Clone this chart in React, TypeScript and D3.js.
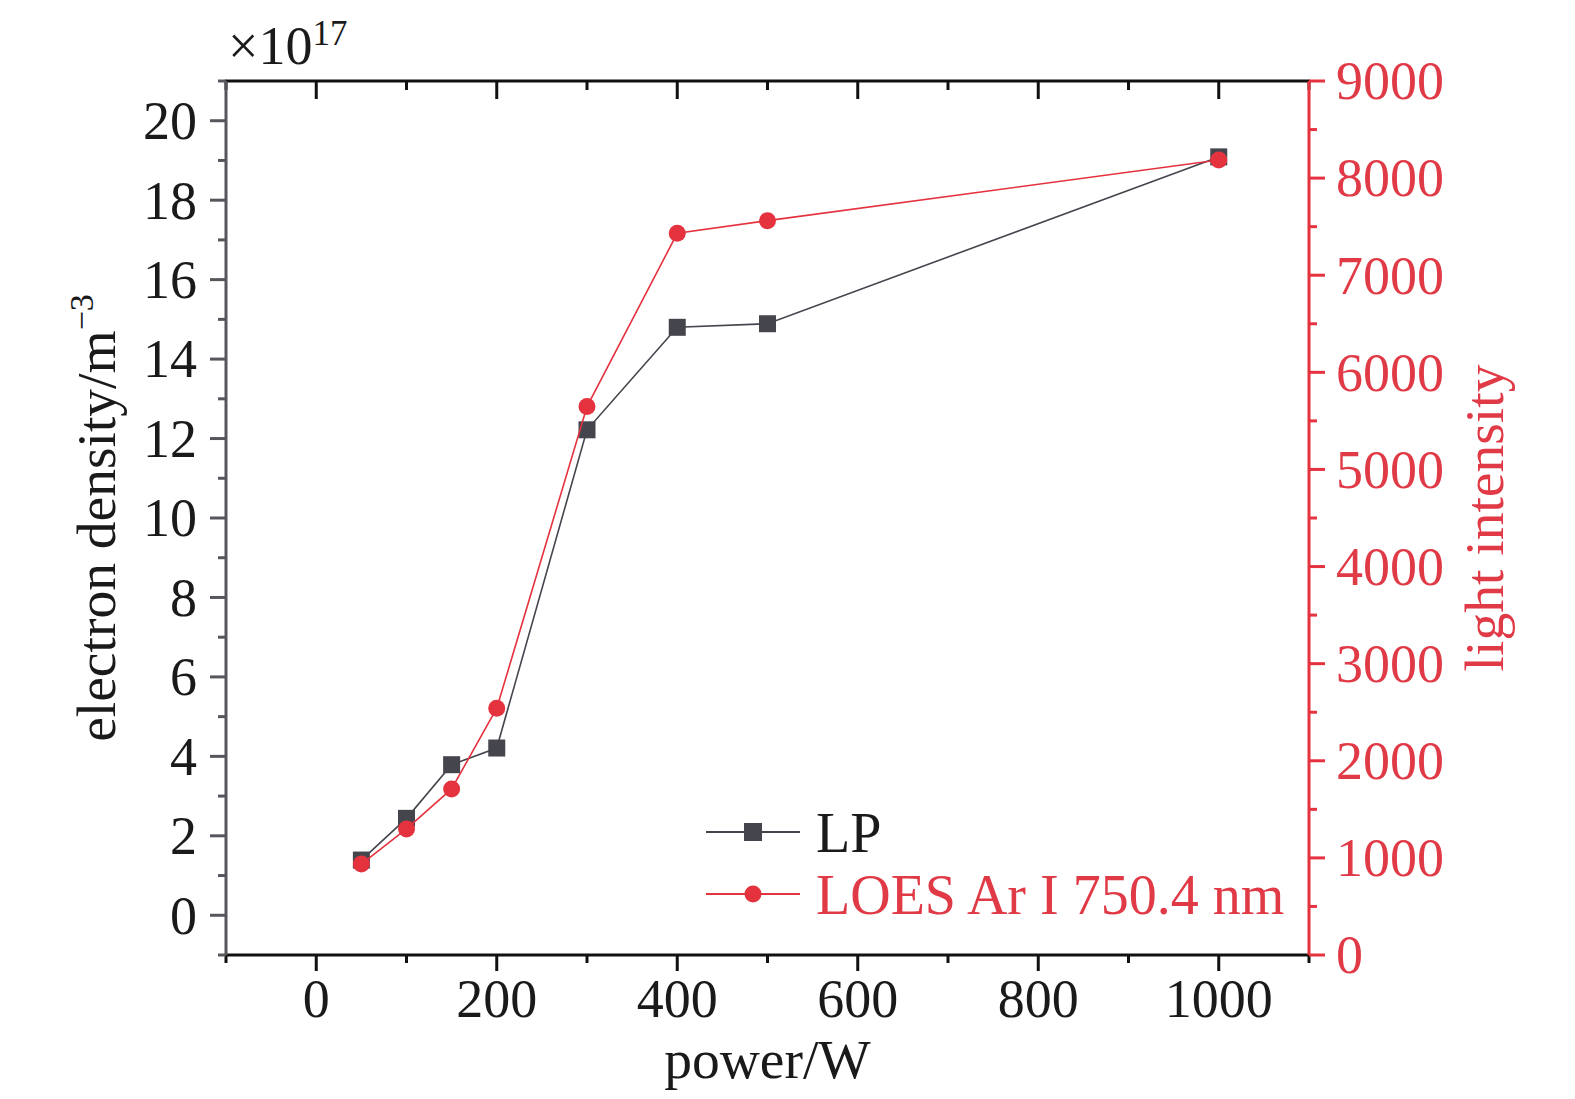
import * as d3 from "d3";

// power in W
const power = [50, 100, 150, 200, 300, 400, 500, 1000];
// electron density, x10^17 m^-3 (Langmuir probe)
const lpDensity = [1.39, 2.44, 3.79, 4.21, 12.22, 14.8, 14.89, 19.09];
// Ar I 750.4 nm line intensity
const loesIntensity = [937, 1298, 1710, 2541, 5647, 7432, 7562, 8187];

const xTicks = d3.range(-100, 1101, 100);
const yLeftTicks = d3.range(-1, 22, 1);
const yRightTicks = d3.range(0, 9001, 500);

const W = 1575;
const H = 1099;
const m = { left: 226, right: 1309, top: 81, bottom: 955 };

const BLACK = "#45454d";
const RED = "#e5323f";
const RED_TEXT = "#e13a47";
const LEFT_AXIS = "#56565c";
const FONT = "'Liberation Serif', 'Times New Roman', serif";

export default function App() {
  const x = d3.scaleLinear().domain([-100, 1100]).range([m.left, m.right]);
  const yL = d3.scaleLinear().domain([-1, 21]).range([m.bottom, m.top]);
  const yR = d3.scaleLinear().domain([0, 9000]).range([m.bottom, m.top]);

  const lpPts = power.map((p, i) => [x(p), yL(lpDensity[i])] as [number, number]);
  const loesPts = power.map((p, i) => [x(p), yR(loesIntensity[i])] as [number, number]);
  const line = d3.line();

  const major = 16;
  const minor = 8;

  return (
    <svg
      width={W}
      height={H}
      style={{ position: "absolute", left: 0, top: 0, background: "#fff" }}
      fontFamily={FONT}
    >
      {/* data */}
      <path d={line(lpPts) ?? ""} fill="none" stroke={BLACK} strokeWidth={1.6} />
      {lpPts.map(([px, py], i) => (
        <rect key={i} x={px - 8.5} y={py - 8.5} width={17} height={17} fill={BLACK} />
      ))}
      <path d={line(loesPts) ?? ""} fill="none" stroke={RED} strokeWidth={1.6} />
      {loesPts.map(([px, py], i) => (
        <circle key={i} cx={px} cy={py} r={8.5} fill={RED} />
      ))}

      {/* bottom axis */}
      <line x1={m.left - 1} x2={m.right + 1} y1={m.bottom} y2={m.bottom} stroke="#111" strokeWidth={3} />
      {xTicks.map((t) => {
        const isMajor = t % 200 === 0;
        return (
          <g key={t}>
            <line x1={x(t)} x2={x(t)} y1={m.bottom} y2={m.bottom + (isMajor ? major : minor)} stroke="#111" strokeWidth={3} />
            {isMajor && (
              <text x={x(t)} y={1017} textAnchor="middle" fontSize={54} fill="#1a1a1a">
                {t}
              </text>
            )}
          </g>
        );
      })}
      <text x={(m.left + m.right) / 2} y={1078} textAnchor="middle" fontSize={55.5} fill="#1a1a1a">
        power/W
      </text>

      {/* top axis */}
      <line x1={m.left - 1} x2={m.right + 1} y1={m.top} y2={m.top} stroke="#111" strokeWidth={3} />
      {xTicks.map((t) => (
        <line key={t} x1={x(t)} x2={x(t)} y1={m.top} y2={m.top + (t % 200 === 0 ? major + 2 : minor + 1)} stroke="#111" strokeWidth={3} />
      ))}

      {/* left axis */}
      <line x1={m.left} x2={m.left} y1={m.top} y2={m.bottom} stroke={LEFT_AXIS} strokeWidth={3} />
      {yLeftTicks.map((t) => {
        const isMajor = t % 2 === 0;
        return (
          <g key={t}>
            <line x1={m.left} x2={m.left - (isMajor ? major : minor)} y1={yL(t)} y2={yL(t)} stroke={LEFT_AXIS} strokeWidth={3} />
            {isMajor && (
              <text x={197} y={yL(t)} dy="0.34em" textAnchor="end" fontSize={54} fill="#1a1a1a">
                {t}
              </text>
            )}
          </g>
        );
      })}
      <text
        transform={`translate(115,${(m.top + m.bottom) / 2}) rotate(-90)`}
        textAnchor="middle"
        fontSize={55.5}
        fill="#1a1a1a"
      >
        electron density/m
        <tspan dy={-22} fontSize={34}>−3</tspan>
      </text>
      <text x={228} y={64} fontSize={54} fill="#1a1a1a">
        ×10
        <tspan dy={-19} fontSize={35}>17</tspan>
      </text>

      {/* right axis */}
      <line x1={m.right} x2={m.right} y1={m.top} y2={m.bottom} stroke={RED} strokeWidth={3} />
      {yRightTicks.map((t) => {
        const isMajor = t % 1000 === 0;
        return (
          <g key={t}>
            <line x1={m.right} x2={m.right + (isMajor ? major : minor)} y1={yR(t)} y2={yR(t)} stroke={RED} strokeWidth={3} />
            {isMajor && (
              <text x={1336} y={yR(t)} dy="0.34em" textAnchor="start" fontSize={54} fill={RED_TEXT}>
                {t}
              </text>
            )}
          </g>
        );
      })}
      <text
        transform={`translate(1503,${(m.top + m.bottom) / 2}) rotate(-90)`}
        textAnchor="middle"
        fontSize={55.5}
        fill={RED_TEXT}
      >
        light intensity
      </text>

      {/* legend */}
      <line x1={706} x2={800} y1={832} y2={832} stroke={BLACK} strokeWidth={2} />
      <rect x={753 - 9} y={832 - 9} width={18} height={18} fill={BLACK} />
      <text x={816} y={852} fontSize={56} fill="#1a1a1a">LP</text>
      <line x1={706} x2={800} y1={894} y2={894} stroke={RED} strokeWidth={2} />
      <circle cx={753} cy={894} r={8.5} fill={RED} />
      <text x={816} y={914} fontSize={56} fill={RED_TEXT}>LOES Ar I 750.4 nm</text>
    </svg>
  );
}
